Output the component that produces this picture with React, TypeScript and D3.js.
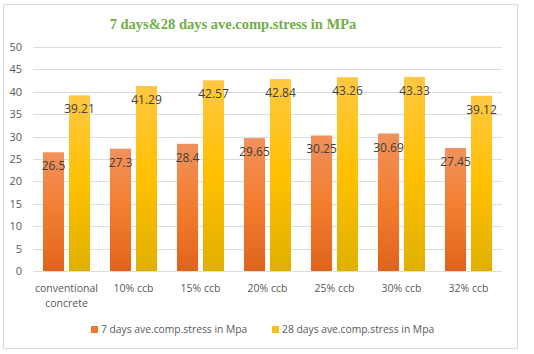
import { useEffect, useRef } from 'react';
import * as d3 from 'd3';

const categories = [
  ['conventional', 'concrete'],
  ['10% ccb'],
  ['15% ccb'],
  ['20% ccb'],
  ['25% ccb'],
  ['30% ccb'],
  ['32% ccb'],
];
const days7 = [26.5, 27.3, 28.4, 29.65, 30.25, 30.69, 27.45];
const days28 = [39.21, 41.29, 42.57, 42.84, 43.26, 43.33, 39.12];
const yTicks = [0, 5, 10, 15, 20, 25, 30, 35, 40, 45, 50];
const seriesNames = ['7 days ave.comp.stress in Mpa', '28 days ave.comp.stress in Mpa'];

const width = 534;
const height = 354;
const plot = { left: 33, right: 502, top: 47, bottom: 271 };
const textColor = '#595959';
const labelColor = '#404040';
const gridColor = '#d9dce3';
const font = '"Open Sans", "Noto Sans", sans-serif';

export default function App() {
  const ref = useRef<SVGSVGElement>(null);

  useEffect(() => {
    const svg = d3.select(ref.current);
    svg.selectAll('*').remove();

    const defs = svg.append('defs');
    const grads = [
      { id: 'g7', stops: ['#f0915c', '#f37d2f', '#df641b'] },
      { id: 'g28', stops: ['#ffc842', '#ffc000', '#e0b000'] },
    ];
    grads.forEach((g) => {
      const lg = defs
        .append('linearGradient')
        .attr('id', g.id)
        .attr('x1', 0)
        .attr('y1', 0)
        .attr('x2', 0)
        .attr('y2', 1);
      g.stops.forEach((c, i) => lg.append('stop').attr('offset', i / 2).attr('stop-color', c));
    });

    // outer frame
    svg
      .append('rect')
      .attr('x', 3.5)
      .attr('y', 4.5)
      .attr('width', 514)
      .attr('height', 344)
      .attr('fill', '#fff')
      .attr('stroke', '#d9d9d9');

    svg
      .append('text')
      .attr('x', 233)
      .attr('y', 29)
      .attr('text-anchor', 'middle')
      .attr('font-family', '"Liberation Serif", "Times New Roman", serif')
      .attr('font-weight', 'bold')
      .attr('font-size', 14.5)
      .attr('fill', '#70ad47')
      .text('7 days&28 days ave.comp.stress in MPa');

    const y = d3.scaleLinear().domain([0, 50]).range([plot.bottom, plot.top]);
    const x = d3
      .scaleBand()
      .domain(categories.map((_, i) => String(i)))
      .range([plot.left, plot.right]);
    // two bars per group, ~21px wide with a 5px gap
    const x1 = d3.scaleBand().domain(['a', 'b']).range([10, x.bandwidth() - 10]).paddingInner(0.19);

    // grid
    svg
      .append('g')
      .selectAll('line')
      .data(yTicks)
      .join('line')
      .attr('x1', plot.left)
      .attr('x2', plot.right)
      .attr('y1', (d) => Math.round(y(d)) + 0.5)
      .attr('y2', (d) => Math.round(y(d)) + 0.5)
      .attr('stroke', gridColor);

    svg
      .append('g')
      .selectAll('text')
      .data(yTicks)
      .join('text')
      .attr('x', 22)
      .attr('y', (d) => y(d) + 4)
      .attr('text-anchor', 'end')
      .attr('font-family', font)
      .attr('font-size', 11)
      .attr('fill', textColor)
      .text((d) => d);

    const series = [
      { key: 'a', values: days7, fill: 'url(#g7)' },
      { key: 'b', values: days28, fill: 'url(#g28)' },
    ];

    series.forEach((s) => {
      const g = svg.append('g');
      g.selectAll('rect')
        .data(s.values)
        .join('rect')
        .attr('x', (_, i) => x(String(i))! + x1(s.key)!)
        .attr('y', (d) => y(d))
        .attr('width', x1.bandwidth())
        .attr('height', (d) => plot.bottom - y(d))
        .attr('fill', s.fill);
      g.selectAll('text')
        .data(s.values)
        .join('text')
        .attr('x', (_, i) => x(String(i))! + x1(s.key)! + x1.bandwidth() / 2)
        .attr('y', (d) => y(d) + 18)
        .attr('text-anchor', 'middle')
        .attr('font-family', font)
        .attr('font-size', 12)
        .attr('fill', labelColor)
        .text((d) => d);
    });

    // category labels
    const cat = svg.append('g');
    categories.forEach((lines, i) => {
      lines.forEach((l, j) => {
        cat
          .append('text')
          .attr('x', x(String(i))! + x.bandwidth() / 2)
          .attr('y', 292 + j * 15)
          .attr('text-anchor', 'middle')
          .attr('font-family', font)
          .attr('font-size', 10.5)
          .attr('fill', textColor)
          .text(l);
      });
    });

    // legend
    const legend = [
      { x: 91, fill: '#ee7a30' },
      { x: 272, fill: '#fdbf12' },
    ];
    legend.forEach((l, i) => {
      svg
        .append('rect')
        .attr('x', l.x)
        .attr('y', 326)
        .attr('width', 7)
        .attr('height', 7)
        .attr('fill', l.fill);
      svg
        .append('text')
        .attr('x', l.x + 10)
        .attr('y', 333)
        .attr('font-family', font)
        .attr('font-size', 10.3)
        .attr('fill', textColor)
        .text(seriesNames[i]);
    });
  }, []);

  return (
    <svg
      ref={ref}
      width={width}
      height={height}
      style={{ position: 'absolute', left: 0, top: 0 }}
    />
  );
}
